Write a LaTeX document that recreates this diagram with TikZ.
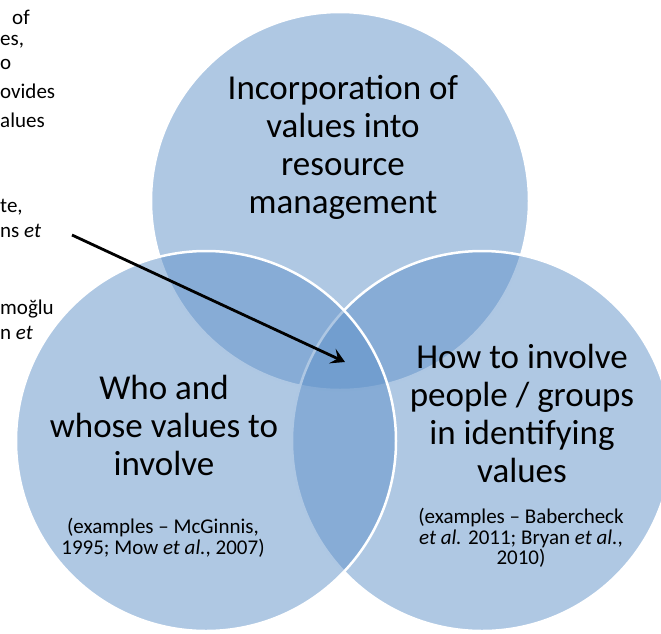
\documentclass[tikz,border=0pt]{standalone}
\usepackage{fontspec}
\setmainfont{Carlito}
\usetikzlibrary{arrows.meta}
\definecolor{vblue}{RGB}{95,145,200}
\tikzset{
  venn/.style={fill=vblue, fill opacity=0.5, draw=white, line width=2.5pt},
  bigtext/.style={align=center, inner sep=0pt, font=\fontsize{35}{38}\selectfont, text=black},
  smalltext/.style={align=center, inner sep=0pt, font=\fontsize{21}{20.5}\selectfont, text=black},
  fragtext/.style={anchor=west, inner sep=0pt, font=\fontsize{21}{24}\selectfont, text=black},
  pointer/.style={draw=black, line width=2.8pt, -{Stealth[length=14pt,width=16pt,inset=6pt]}}
}
\begin{document}
\begin{tikzpicture}[x=1pt,y=-1pt]
\useasboundingbox (0,0) rectangle (661,633);
\clip (0,0) rectangle (661,633);
% circles
\path[venn] (340,201) circle (189);
\path[venn] (482,441) circle (190);
\path[venn] (206,441) circle (190);
% main texts
\node[bigtext] (top) at (343,147) {Incorporation of\\values into\\resource\\management};
\node[bigtext] (left) at (164,425) {Who and\\whose values to\\involve};
\node[smalltext] (leftex) at (163,538) {(examples -- McGinnis,\\1995; Mow \textit{et al.}, 2007)};
\node[bigtext] (right) at (522,413) {How to involve\\people / groups\\in identifying\\values};
\node[smalltext] (rightex) at (521,538) {(examples -- Babercheck\\\textit{et al.} 2011; Bryan \textit{et al.},\\2010)};
% cropped text fragments at the left margin
\node[fragtext] (f1) at (12,17) {of};
\node[fragtext] (f2) at (0,42) {es,};
\node[fragtext] (f3) at (0,64) {o};
\node[fragtext] (f4) at (0,91) {ovides};
\node[fragtext] (f5) at (0,120) {alues};
\node[fragtext] (f6) at (0,207) {te,};
\node[fragtext] (f7) at (0,231) {ns \textit{et}};
\node[fragtext] (f8) at (0,309) {moğlu};
\node[fragtext] (f9) at (0,333) {n \textit{et}};
% arrow
\coordinate (astart) at (72,235);
\coordinate (aend) at (345,362);
\draw[pointer] (astart) -- (aend);
\end{tikzpicture}
\end{document}
